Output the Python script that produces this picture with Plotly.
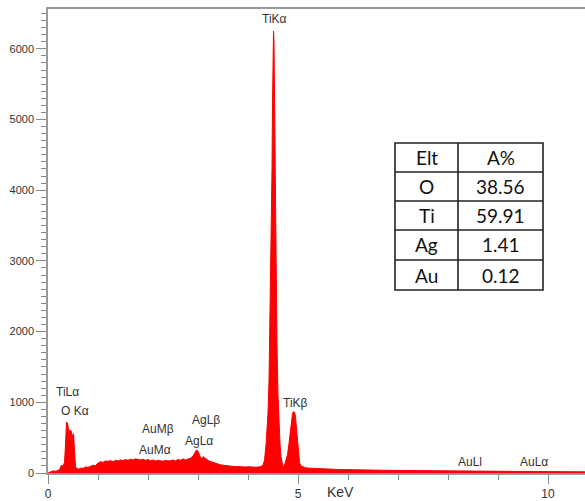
import plotly.graph_objects as go

# ---- data ----
energy_kev = [
    0.00, 0.05, 0.10, 0.15, 0.20, 0.24, 0.27, 0.30, 0.33, 0.35, 0.37, 0.38, 0.39, 0.40,
    0.41, 0.42, 0.43, 0.44, 0.45, 0.46, 0.47, 0.48, 0.49, 0.50, 0.51, 0.52, 0.53, 0.55,
    0.58, 0.62, 0.66, 0.70, 0.75, 0.80, 0.85, 0.90, 0.95, 1.00, 1.05, 1.10, 1.15, 1.20,
    1.25, 1.30, 1.35, 1.40, 1.45, 1.50, 1.55, 1.60, 1.65, 1.70, 1.75, 1.80, 1.85, 1.90,
    1.95, 2.00, 2.05, 2.10, 2.15, 2.20, 2.25, 2.30, 2.35, 2.40, 2.45, 2.50, 2.55, 2.60,
    2.65, 2.70, 2.75, 2.80, 2.85, 2.90, 2.94, 2.97, 3.00, 3.03, 3.06, 3.10, 3.14, 3.18,
    3.22, 3.26, 3.30, 3.35, 3.40, 3.45, 3.50, 3.55, 3.60, 3.65, 3.70, 3.75, 3.80, 3.85,
    3.90, 3.95, 4.00, 4.05, 4.10, 4.15, 4.20, 4.25, 4.30, 4.33, 4.36, 4.38, 4.40, 4.42,
    4.44, 4.46, 4.47, 4.48, 4.49, 4.50, 4.51, 4.52, 4.53, 4.54, 4.55, 4.56, 4.58, 4.60,
    4.62, 4.64, 4.66, 4.68, 4.70, 4.73, 4.76, 4.79, 4.82, 4.85, 4.87, 4.89, 4.91, 4.93,
    4.95, 4.97, 4.99, 5.01, 5.03, 5.06, 5.10, 5.15, 5.20, 5.30, 5.40, 5.50, 5.60, 5.70,
    5.80, 5.90, 6.00, 6.20, 6.40, 6.60, 6.80, 7.00, 7.20, 7.40, 7.60, 7.80, 8.00, 8.20,
    8.40, 8.60, 8.80, 9.00, 9.20, 9.40, 9.60, 9.80, 10.00, 10.20, 10.40, 10.60, 10.74,
]
counts = [
    0, 20, 30, 25, 35, 60, 110, 100, 150, 400, 720, 690, 710, 640,
    660, 560, 600, 520, 610, 560, 590, 480, 540, 520, 560, 430, 250, 90,
    60, 55, 70, 65, 85, 80, 95, 110, 105, 140, 160, 150, 170, 165,
    175, 160, 180, 170, 185, 175, 190, 180, 195, 185, 200, 190, 185, 195,
    180, 190, 175, 185, 170, 180, 175, 165, 180, 170, 175, 185, 170, 190,
    180, 200, 185, 195, 210, 240, 300, 325, 310, 260, 200, 230, 215, 190,
    170, 160, 145, 130, 125, 115, 110, 105, 100, 95, 100, 90, 92, 88,
    90, 85, 88, 84, 86, 82, 85, 90, 110, 180, 400, 600, 850, 1300,
    2100, 3000, 3600, 4300, 5200, 6000, 6250, 6100, 5200, 4200, 3400, 2700, 1800, 1100,
    650, 420, 230, 120, 90, 110, 170, 260, 420, 620, 760, 840, 870, 860,
    800, 650, 450, 260, 150, 100, 85, 75, 70, 65, 60, 58, 55, 52,
    50, 48, 46, 44, 42, 40, 38, 36, 35, 33, 32, 30, 29, 28,
    27, 26, 25, 24, 23, 22, 22, 21, 20, 19, 18, 17, 16,
]

peak_labels = ["TiLα", "O Kα", "AuMβ", "AuMα", "AgLβ", "AgLα", "TiKα", "TiKβ", "AuLl", "AuLα"]
peak_label_x = [0.38, 0.54, 2.20, 2.14, 3.16, 3.02, 4.52, 4.94, 8.44, 9.72]
peak_label_y = [1140, 870, 620, 330, 750, 455, 6420, 990, 160, 160]

table_header = ["Elt", "A%"]
table_elements = ["O", "Ti", "Ag", "Au"]
table_percent = ["38.56", "59.91", "1.41", "0.12"]

y_ticks = [0, 1000, 2000, 3000, 4000, 5000, 6000]
x_ticks = [0, 5, 10]

fig = go.Figure()
fig.add_trace(go.Scatter(
    x=energy_kev, y=counts, mode="lines",
    line=dict(color="#ff0000", width=1),
    fill="tozeroy", fillcolor="#ff0000",
    hoverinfo="skip", showlegend=False,
))

label_font = dict(family="Liberation Sans, Arial", size=12, color="#333333")
for txt, lx, ly in zip(peak_labels, peak_label_x, peak_label_y):
    fig.add_annotation(x=lx, y=ly, text=txt, showarrow=False, font=label_font,
                       xanchor="center", yanchor="middle")

# ---- table (drawn with shapes + text) ----
tx0, tx1, txm = 6.94, 9.90, 8.20
row_edges = [4668, 4257, 3847, 3437, 3013, 2588]
border = dict(color="#222222", width=1.6)
fig.add_shape(type="rect", x0=tx0, x1=tx1, y0=row_edges[-1], y1=row_edges[0],
              xref="x", yref="y", line=border, fillcolor="white", layer="above")
for ry in row_edges[1:-1]:
    fig.add_shape(type="line", x0=tx0, x1=tx1, y0=ry, y1=ry, xref="x", yref="y",
                  line=border, layer="above")
fig.add_shape(type="line", x0=txm, x1=txm, y0=row_edges[-1], y1=row_edges[0],
              xref="x", yref="y", line=border, layer="above")
table_font = dict(family="Lato, Open Sans, sans-serif", size=19, color="#111111")
col1 = [table_header[0]] + table_elements
col2 = [table_header[1]] + table_percent
for i in range(len(col1)):
    yc = (row_edges[i] + row_edges[i + 1]) / 2
    fig.add_annotation(x=(tx0 + txm) / 2, y=yc, text=col1[i], showarrow=False,
                       font=table_font, xanchor="center", yanchor="middle")
    fig.add_annotation(x=(txm + tx1) / 2, y=yc, text=col2[i], showarrow=False,
                       font=table_font, xanchor="center", yanchor="middle")

fig.add_annotation(x=5.85, y=-0.040, xref="x", yref="paper", text="KeV",
                   showarrow=False, font=dict(family="Liberation Sans, Arial", size=14, color="#333333"),
                   xanchor="center", yanchor="middle")

axis_font = dict(family="Liberation Sans, Arial", size=11, color="#333333")
fig.update_xaxes(
    range=[0, 10.74], tickvals=x_ticks, ticktext=[str(v) for v in x_ticks],
    ticks="outside", ticklen=9, tickcolor="#888888", tickwidth=1.2,
    minor=dict(dtick=1, tick0=0, ticks="outside", ticklen=5, tickcolor="#888888", tickwidth=1),
    showline=True, linecolor="#999999", linewidth=1.5, mirror=True,
    showgrid=False, zeroline=False, tickfont=dict(family="Liberation Sans, Arial", size=12, color="#333333"),
)
fig.update_yaxes(
    range=[0, 6563], tickvals=y_ticks, ticktext=[str(v) for v in y_ticks],
    ticks="outside", ticklen=10, tickcolor="#888888", tickwidth=1.2,
    minor=dict(dtick=100, tick0=0, ticks="outside", ticklen=5, tickcolor="#888888", tickwidth=1),
    showline=True, linecolor="#999999", linewidth=1.5,
    showgrid=False, zeroline=False, tickfont=axis_font,
)
fig.update_layout(
    width=585, height=501,
    margin=dict(l=48, r=0, t=9, b=28),
    plot_bgcolor="white", paper_bgcolor="white",
    showlegend=False,
)
fig.write_html("out.html")
